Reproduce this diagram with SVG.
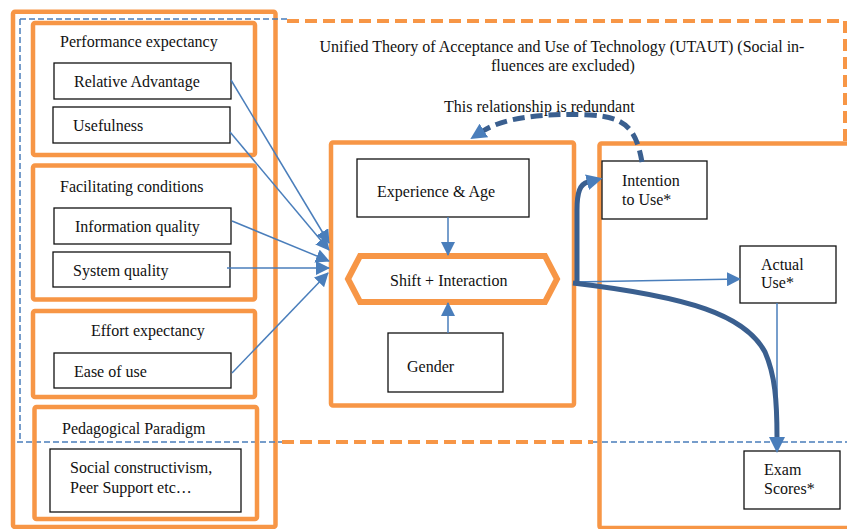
<svg xmlns="http://www.w3.org/2000/svg" width="847" height="529" viewBox="0 0 847 529">
<defs>
<style>
.t{font-family:"Liberation Serif","Times New Roman",serif;font-size:16px;fill:#111}
.og{fill:none;stroke:#F79646;stroke-width:4.5}
.bx{fill:#fff;stroke:#111;stroke-width:1.3}
.odash{fill:none;stroke:#F79646;stroke-width:4;stroke-dasharray:12 6}
.bdash{fill:none;stroke:#4A7EBB;stroke-width:1.5;stroke-dasharray:6 3}
.thin{fill:none;stroke:#4A7EBB;stroke-width:1.5}
.thick{fill:none;stroke:#3A5F8F;stroke-width:5}
</style>
<marker id="ah" markerUnits="userSpaceOnUse" markerWidth="14" markerHeight="14" refX="13" refY="7" orient="auto"><path d="M0,0 L14,7 L0,14 z" fill="#4A7EBB"/></marker>
<marker id="ahk" markerUnits="userSpaceOnUse" markerWidth="16" markerHeight="16" refX="1" refY="8" orient="auto"><path d="M0,0 L16,8 L0,16 z" fill="#4A7EBB"/></marker>
</defs>
<rect width="847" height="529" fill="#fff"/>

<g id="frames">
<rect class="og" x="13" y="11.7" width="262.5" height="515.3" rx="2"/>
<path class="bdash" d="M20,19 L287,19 M20,19 L20,442 M17,442 L282,442 M593,442 L847,442"/>
<path class="odash" d="M287,21 L845,21 L845,141 M282,442 L593,442"/>
<rect class="og" x="599.5" y="143.5" width="260" height="384.5" rx="2"/>
<rect class="og" x="331" y="142.5" width="243" height="263" rx="2"/>
</g>

<g id="performance-expectancy">
<rect class="og" x="33" y="23" width="222" height="132" rx="2"/>
<text class="t" x="60" y="47">Performance expectancy</text>
</g>
<g id="relative-advantage">
<rect class="bx" x="54" y="63" width="177" height="36"/>
<text class="t" x="74" y="87">Relative Advantage</text>
</g>
<g id="usefulness">
<rect class="bx" x="53" y="107" width="177" height="36"/>
<text class="t" x="73" y="131">Usefulness</text>
</g>

<g id="facilitating-conditions">
<rect class="og" x="33" y="165.5" width="222" height="134" rx="2"/>
<text class="t" x="60" y="192">Facilitating conditions</text>
</g>
<g id="information-quality">
<rect class="bx" x="54" y="208" width="177" height="36"/>
<text class="t" x="75" y="232">Information quality</text>
</g>
<g id="system-quality">
<rect class="bx" x="53" y="252" width="177" height="35"/>
<text class="t" x="73" y="276">System quality</text>
</g>

<g id="effort-expectancy">
<rect class="og" x="33" y="311" width="222" height="86" rx="2"/>
<text class="t" x="91" y="336">Effort expectancy</text>
</g>
<g id="ease-of-use">
<rect class="bx" x="54" y="353" width="177" height="35"/>
<text class="t" x="74" y="377">Ease of use</text>
</g>

<g id="pedagogical-paradigm">
<rect class="og" x="34.5" y="407" width="222.5" height="112" rx="2"/>
<text class="t" x="62" y="434">Pedagogical Paradigm</text>
</g>
<g id="social-constructivism">
<rect class="bx" x="50" y="449" width="191" height="63"/>
<text class="t" x="70" y="473">Social constructivism,</text>
<text class="t" x="70" y="493">Peer Support etc…</text>
</g>

<g id="utaut-title">
<text class="t" x="562" y="52" text-anchor="middle">Unified Theory of Acceptance and Use of Technology (UTAUT) (Social in-</text>
<text class="t" x="563" y="71" text-anchor="middle">fluences are excluded)</text>
</g>
<g id="redundant-label">
<text class="t" x="444" y="112">This relationship is redundant</text>
</g>

<g id="experience-age">
<rect class="bx" x="357" y="159" width="172" height="58"/>
<text class="t" x="377" y="197">Experience &amp; Age</text>
</g>
<g id="shift-interaction">
<path d="M348,279 L360,256 L545,256 L557,279 L545,302 L360,302 Z" fill="#fff" stroke="#F79646" stroke-width="6" stroke-linejoin="miter"/>
<text class="t" x="390" y="286">Shift + Interaction</text>
</g>
<g id="gender">
<rect class="bx" x="388" y="333" width="115" height="59"/>
<text class="t" x="407" y="372">Gender</text>
</g>

<g id="intention-to-use">
<rect class="bx" x="602" y="161" width="105" height="58"/>
<text class="t" x="622" y="186">Intention</text>
<text class="t" x="622" y="205">to Use*</text>
</g>
<g id="actual-use">
<rect class="bx" x="740" y="246" width="96" height="57"/>
<text class="t" x="761" y="270">Actual</text>
<text class="t" x="761" y="288">Use*</text>
</g>
<g id="exam-scores">
<rect class="bx" x="744" y="451" width="96" height="58"/>
<text class="t" x="764" y="475">Exam</text>
<text class="t" x="764" y="494">Scores*</text>
</g>

<g id="connectors">
<path class="thin" d="M231,80 L329,243" marker-end="url(#ah)"/>
<path class="thin" d="M230,132 L329,250" marker-end="url(#ah)"/>
<path class="thin" d="M232,221 L329,261" marker-end="url(#ah)"/>
<path class="thin" d="M227,268 L329,268" marker-end="url(#ah)"/>
<path class="thin" d="M232,373 L328,273" marker-end="url(#ah)"/>
<path class="thin" d="M448,217 L448,255" marker-end="url(#ah)"/>
<path class="thin" d="M448,333 L448,303" marker-end="url(#ah)"/>
<path class="thin" d="M573,282 L740,279" marker-end="url(#ah)"/>
<path class="thin" d="M777,303 L777,440"/>
<path class="thick" d="M573,283 C690,297 745,315 765,352 C775,375 777,400 777,438" marker-end="url(#ahk)"/>
<path class="thick" d="M577,284 L577,210 C577,192 580,184 588,182" marker-end="url(#ahk)"/>
<path class="thick" d="M642,162 C636,128 625,117 590,115 C545,113 505,117 483,131" stroke-width="4.5" stroke-dasharray="12 6" marker-end="url(#ahk)"/>
</g>
</svg>
